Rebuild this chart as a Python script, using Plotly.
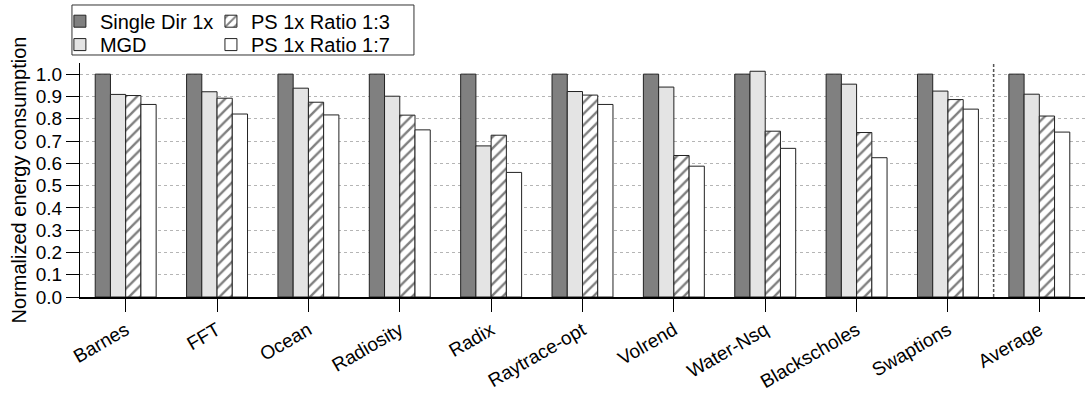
import plotly.graph_objects as go

categories = ["Barnes", "FFT", "Ocean", "Radiosity", "Radix", "Raytrace-opt",
              "Volrend", "Water-Nsq", "Blackscholes", "Swaptions", "Average"]
single_dir = [1.0, 1.0, 1.0, 1.0, 1.0, 1.0, 1.0, 1.0, 1.0, 1.0, 1.0]
mgd = [0.909, 0.921, 0.937, 0.901, 0.678, 0.922, 0.942, 1.013, 0.955, 0.924, 0.910]
ps_1_3 = [0.904, 0.892, 0.874, 0.816, 0.726, 0.906, 0.635, 0.744, 0.738, 0.886, 0.812]
ps_1_7 = [0.864, 0.821, 0.817, 0.750, 0.559, 0.864, 0.587, 0.667, 0.625, 0.843, 0.740]
y_ticks = [0.0, 0.1, 0.2, 0.3, 0.4, 0.5, 0.6, 0.7, 0.8, 0.9, 1.0]

FONT = "Liberation Sans, Arial, Helvetica, sans-serif"
outline = dict(color="#222222", width=1)

fig = go.Figure()
fig.add_trace(go.Bar(name="Single Dir 1x", x=categories, y=single_dir,
                     marker=dict(color="#808080", line=outline), legend="legend2"))
fig.add_trace(go.Bar(name="MGD", x=categories, y=mgd,
                     marker=dict(color="#e4e4e4", line=outline), legend="legend3"))
fig.add_trace(go.Bar(name="PS 1x Ratio 1:3", x=categories, y=ps_1_3,
                     marker=dict(color="white", line=outline,
                                 pattern=dict(shape="/", fgcolor="black", bgcolor="white",
                                              size=8, solidity=0.3)),
                     legend="legend4"))
fig.add_trace(go.Bar(name="PS 1x Ratio 1:7", x=categories, y=ps_1_7,
                     marker=dict(color="white", line=outline), legend="legend5"))

fig.add_shape(type="line", xref="x", yref="y", x0=9.5, x1=9.5, y0=0, y1=1.05,
              line=dict(color="#555555", width=1.5, dash="3px,2px"), layer="above")

# legend frame
fig.add_shape(type="rect", xref="paper", yref="paper",
              x0=-0.008, x1=0.3323, y0=1.0342, y1=1.2479,
              line=dict(color="#333333", width=1), fillcolor="rgba(0,0,0,0)")

leg_common = dict(orientation="v", yanchor="top", xanchor="left",
                  bgcolor="rgba(0,0,0,0)", borderwidth=0,
                  font=dict(size=20, family=FONT), itemwidth=30, tracegroupgap=0)
col1_x, col2_x = -0.020, 0.1303
row1_y, row2_y = 1.262, 1.162

fig.update_layout(
    width=1085, height=395,
    margin=dict(l=80, r=0, t=63, b=98),
    plot_bgcolor="white", paper_bgcolor="white",
    barmode="group", bargap=0.333, bargroupgap=0,
    font=dict(family=FONT, color="black", size=18),
    showlegend=True,
    legend2=dict(x=col1_x, y=row1_y, **leg_common),
    legend3=dict(x=col1_x, y=row2_y, **leg_common),
    legend4=dict(x=col2_x, y=row1_y, **leg_common),
    legend5=dict(x=col2_x, y=row2_y, **leg_common),
    xaxis=dict(type="category", range=[-0.5, 10.5], showline=True, linecolor="black",
               linewidth=1.5, ticks="outside", ticklen=13, tickcolor="black",
               tickangle=-30, tickfont=dict(size=19, family=FONT), showgrid=False,
               automargin=False),
    yaxis=dict(range=[0, 1.05], tickvals=y_ticks, ticktext=[f"{v:.1f}" for v in y_ticks],
               showline=True, linecolor="black", linewidth=1, ticks="outside", ticklen=13,
               tickcolor="black", tickfont=dict(size=19, family=FONT),
               showgrid=True, gridcolor="#b5b5b5", griddash="3px,3px", gridwidth=1,
               zeroline=False, automargin=False,
               title=dict(text="Normalized energy consumption",
                          font=dict(size=20, family=FONT), standoff=3)),
)

fig.write_html("out.html")
